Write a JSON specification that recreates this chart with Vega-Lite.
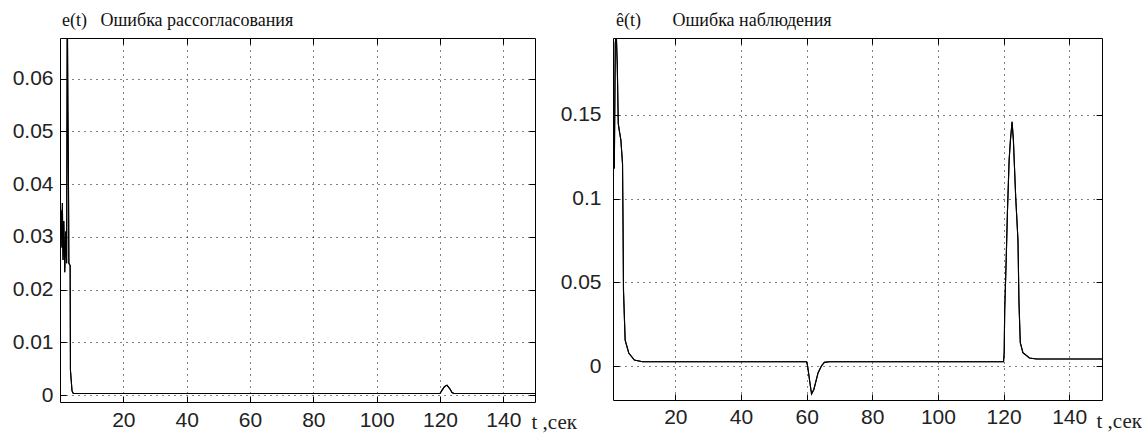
{
  "$schema": "https://vega.github.io/schema/vega-lite/v6.json",
  "background": "white",
  "padding": {"left": 11, "top": 11, "right": 0, "bottom": 0},
  "bounds": "flush",
  "spacing": 78,
  "datasets": {
    "e": [
      {"t": 0.3, "v": 0.030}, {"t": 0.45, "v": 0.035}, {"t": 0.6, "v": 0.028}, {"t": 0.75, "v": 0.0364},
      {"t": 0.95, "v": 0.0256}, {"t": 1.2, "v": 0.033}, {"t": 1.5, "v": 0.0233}, {"t": 1.8, "v": 0.031},
      {"t": 2.1, "v": 0.025}, {"t": 2.3, "v": 0.075}, {"t": 2.5, "v": 0.0535}, {"t": 2.65, "v": 0.043},
      {"t": 2.8, "v": 0.025}, {"t": 3.2, "v": 0.0246}, {"t": 3.3, "v": 0.0047}, {"t": 3.8, "v": 0.0008},
      {"t": 4.2, "v": 0.0003}, {"t": 120.0, "v": 0.0003}, {"t": 120.6, "v": 0.0009}, {"t": 121.4, "v": 0.0016},
      {"t": 122.2, "v": 0.0019}, {"t": 123.0, "v": 0.0013}, {"t": 123.8, "v": 0.0005}, {"t": 124.4, "v": 0.0003},
      {"t": 150.0, "v": 0.0003}
    ],
    "eh": [
      {"t": 1.4, "v": 0.118}, {"t": 1.7, "v": 0.193}, {"t": 2.0, "v": 0.199}, {"t": 2.3, "v": 0.18},
      {"t": 2.6, "v": 0.145}, {"t": 2.9, "v": 0.141}, {"t": 3.4, "v": 0.135}, {"t": 3.9, "v": 0.121},
      {"t": 4.05, "v": 0.087}, {"t": 4.2, "v": 0.045}, {"t": 4.7, "v": 0.0155}, {"t": 5.8, "v": 0.0078},
      {"t": 7.5, "v": 0.0036}, {"t": 10.0, "v": 0.0026}, {"t": 60.0, "v": 0.0026}, {"t": 60.3, "v": 0.0},
      {"t": 61.0, "v": -0.010}, {"t": 61.5, "v": -0.0167}, {"t": 62.2, "v": -0.014}, {"t": 63.5, "v": -0.004},
      {"t": 64.5, "v": 0.0}, {"t": 65.4, "v": 0.0022}, {"t": 67.0, "v": 0.0026}, {"t": 120.0, "v": 0.0026},
      {"t": 120.2, "v": 0.008}, {"t": 120.35, "v": 0.033}, {"t": 120.8, "v": 0.063}, {"t": 121.2, "v": 0.093},
      {"t": 121.7, "v": 0.123}, {"t": 122.1, "v": 0.135}, {"t": 122.6, "v": 0.146}, {"t": 123.0, "v": 0.135},
      {"t": 123.7, "v": 0.101}, {"t": 124.4, "v": 0.075}, {"t": 124.7, "v": 0.038}, {"t": 125.1, "v": 0.014},
      {"t": 125.9, "v": 0.008}, {"t": 127.9, "v": 0.0048}, {"t": 130.0, "v": 0.0042}, {"t": 150.0, "v": 0.0042}
    ]
  },
  "config": {
    "view": {"stroke": "#000", "strokeWidth": 1},
    "axis": {
      "labelFont": "Liberation Sans", "labelFontSize": 21, "labelColor": "#222",
      "tickColor": "#000", "tickSize": -6, "domain": false,
      "gridColor": "#000", "gridDash": [1, 5], "gridOpacity": 1, "gridWidth": 1
    },
    "title": {"font": "Liberation Serif", "fontSize": 18, "fontWeight": "normal", "color": "#111", "anchor": "start", "frame": "group", "offset": 8}
  },
  "hconcat": [
    {
      "width": 475, "height": 364,
      "title": {"text": "e(t)\u00a0\u00a0\u00a0Ошибка рассогласования", "dx": 2},
      "data": {"name": "e"},
      "resolve": {"axis": {"x": "independent", "y": "independent"}},
      "layer": [
        {
          "mark": {"type": "line", "color": "#000", "strokeWidth": 1.1, "clip": true},
          "encoding": {
            "x": {"field": "t", "type": "quantitative", "scale": {"domain": [0, 150], "nice": false, "zero": false},
                  "axis": {"orient": "bottom", "values": [20, 40, 60, 80, 100, 120, 140], "grid": true, "labelPadding": 13,
                           "title": "t ,сек", "titleFont": "Liberation Serif", "titleFontSize": 21, "titleFontWeight": "normal", "titleColor": "#222",
                           "titleAnchor": "start", "titleAlign": "left", "titleBaseline": "alphabetic", "titleX": 471, "titleY": 26}},
            "y": {"field": "v", "type": "quantitative", "scale": {"domain": [-0.0013, 0.0677], "nice": false, "zero": false},
                  "axis": {"orient": "left", "values": [0, 0.01, 0.02, 0.03, 0.04, 0.05, 0.06], "format": "~g", "grid": true, "labelPadding": 13, "title": null}}
          }
        },
        {
          "mark": {"type": "line", "color": "#000", "strokeWidth": 1.1, "clip": true},
          "encoding": {
            "x": {"field": "t", "type": "quantitative", "axis": {"orient": "top", "values": [20, 40, 60, 80, 100, 120, 140], "labels": false, "grid": false, "title": null}},
            "y": {"field": "v", "type": "quantitative", "axis": {"orient": "right", "values": [0, 0.01, 0.02, 0.03, 0.04, 0.05, 0.06], "labels": false, "grid": false, "title": null}}
          }
        }
      ]
    },
    {
      "width": 489, "height": 362,
      "title": {"text": "ê(t)\u00a0\u00a0\u00a0\u00a0\u00a0\u00a0\u00a0Ошибка наблюдения", "dx": 3},
      "data": {"name": "eh"},
      "resolve": {"axis": {"x": "independent", "y": "independent"}},
      "layer": [
        {
          "mark": {"type": "line", "color": "#000", "strokeWidth": 1.1, "clip": true},
          "encoding": {
            "x": {"field": "t", "type": "quantitative", "scale": {"domain": [1, 150], "nice": false, "zero": false},
                  "axis": {"orient": "bottom", "values": [20, 40, 60, 80, 100, 120, 140], "grid": true, "labelPadding": 12,
                           "title": "t ,сек", "titleFont": "Liberation Serif", "titleFontSize": 21, "titleFontWeight": "normal", "titleColor": "#222",
                           "titleAnchor": "start", "titleAlign": "left", "titleBaseline": "alphabetic", "titleX": 483, "titleY": 27}},
            "y": {"field": "v", "type": "quantitative", "scale": {"domain": [-0.0203, 0.196], "nice": false, "zero": false},
                  "axis": {"orient": "left", "values": [0, 0.05, 0.1, 0.15], "format": "~g", "grid": true, "labelPadding": 18, "title": null}}
          }
        },
        {
          "mark": {"type": "line", "color": "#000", "strokeWidth": 1.1, "clip": true},
          "encoding": {
            "x": {"field": "t", "type": "quantitative", "axis": {"orient": "top", "values": [20, 40, 60, 80, 100, 120, 140], "labels": false, "grid": false, "title": null}},
            "y": {"field": "v", "type": "quantitative", "axis": {"orient": "right", "values": [0, 0.05, 0.1, 0.15], "labels": false, "grid": false, "title": null}}
          }
        }
      ]
    }
  ]
}
